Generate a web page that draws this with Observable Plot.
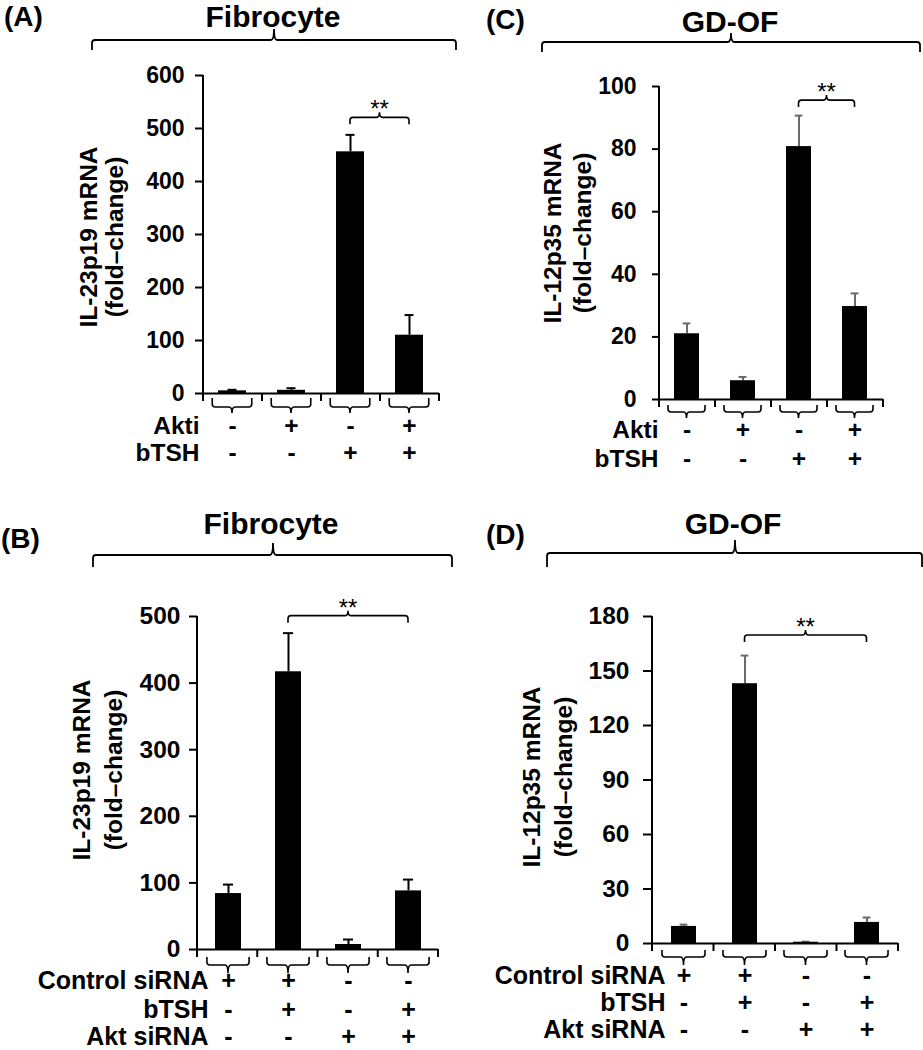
<!DOCTYPE html>
<html><head><meta charset="utf-8">
<script src="https://cdn.jsdelivr.net/npm/d3@7"></script>
<script src="https://cdn.jsdelivr.net/npm/@observablehq/plot@0.6"></script>
<style>
body{margin:0;background:#fff;}
#fig{position:relative;width:923px;height:1050px;overflow:hidden;background:#fff;font-family:"Liberation Sans",Arial,sans-serif;}
.panel{position:absolute;}
</style></head><body><div id="fig"></div>
<script>
// ---------- data ----------
const groups = ["g1", "g2", "g3", "g4"];
// Panels A and C (Akti / bTSH)
const aktiSigns = ["-", "+", "-", "+"];
const bTSHSignsTop = ["-", "-", "+", "+"];
// Panels B and D (siRNA)
const controlSiSigns = ["+", "+", "-", "-"];
const bTSHSignsBottom = ["-", "+", "-", "+"];
const aktSiSigns = ["-", "-", "+", "+"];

const aMean = [5, 6, 456, 110];
const aSem = [2, 4, 32, 38];
const aTicks = [0, 100, 200, 300, 400, 500, 600];

const cMean = [21, 6, 80.8, 29.7];
const cSem = [3.3, 1.2, 9.9, 4.2];
const cTicks = [0, 20, 40, 60, 80, 100];

const bMean = [84, 417, 7.5, 88];
const bSem = [13.5, 58, 7.5, 17];
const bTicks = [0, 100, 200, 300, 400, 500];

const dMean = [9.4, 143, 0.7, 11.6];
const dSem = [1.0, 15.5, 0.3, 2.7];
const dTicks = [0, 30, 60, 90, 120, 150, 180];

const labelFibro = "Fibrocyte";
const labelGD = "GD-OF";
const yLabel23 = ["IL-23p19 mRNA", "(fold\u2013change)"];
const yLabel12 = ["IL-12p35 mRNA", "(fold\u2013change)"];

// ---------- layout ----------
const panels = [
  {letter: "(A)", title: labelFibro, ylab: yLabel23, mean: aMean, sem: aSem, ticks: aTicks,
   left: 0, top: 0, width: 462, height: 490, margin: {top: 75, right: 23, bottom: 97, left: 203},
   pad: 0.525, tickSize: 8, tickPadding: 11, tickFont: 23, errColor: "#000", capW: 9,
   ylabX: [97, 123], ylabY: 237,
   rows: [{name: "Akti", signs: aktiSigns, dy: 40}, {name: "bTSH", signs: bTSHSignsTop, dy: 67}],
   rowNameX: 199, rowFont: 24.5,
   sub: {frac: 0.67, end: 5, line: 14, tick: 20},
   topB: {x0: 92, x1: 456, xm: 274, y: 40, end: 50, peak: 29},
   titleX: 273, titleY: 27, letterX: 4, letterY: 26,
   sig: {i: 2, j: 3, off: 17}},
  {letter: "(C)", title: labelGD, ylab: yLabel12, mean: cMean, sem: cSem, ticks: cTicks,
   left: 462, top: 0, width: 461, height: 490, margin: {top: 86, right: 40, bottom: 91, left: 197},
   pad: 0.55, tickSize: 7, tickPadding: 16, tickFont: 23, errColor: "#6a6a6a", capW: 8,
   ylabX: [99, 129], ylabY: 233,
   rows: [{name: "Akti", signs: aktiSigns, dy: 38}, {name: "bTSH", signs: bTSHSignsTop, dy: 67}],
   rowNameX: 196, rowFont: 24.5,
   sub: {frac: 0.66, end: 6, line: 13, tick: 19},
   topB: {x0: 80, x1: 458, xm: 269, y: 42, end: 52, peak: 33},
   titleX: 268, titleY: 32, letterX: 24, letterY: 29,
   sig: {i: 2, j: 3, off: 15}},
  {letter: "(B)", title: labelFibro, ylab: yLabel23, mean: bMean, sem: bSem, ticks: bTicks,
   left: 0, top: 490, width: 462, height: 560, margin: {top: 126, right: 24, bottom: 101, left: 197},
   pad: 0.57, tickSize: 8, tickPadding: 9, tickFont: 24.5, errColor: "#000", capW: 10,
   ylabX: [90, 122], ylabY: 280,
   rows: [{name: "Control siRNA", signs: controlSiSigns, dy: 39}, {name: "bTSH", signs: bTSHSignsBottom, dy: 68}, {name: "Akt siRNA", signs: aktSiSigns, dy: 95}],
   rowNameX: 208, rowFont: 25,
   sub: {frac: 0.7, end: 8, line: 16, tick: 24},
   topB: {x0: 93, x1: 452, xm: 273, y: 65, end: 77, peak: 53},
   titleX: 271, titleY: 44, letterX: 1, letterY: 58,
   sig: {i: 1, j: 3, off: 17}},
  {letter: "(D)", title: labelGD, ylab: yLabel12, mean: dMean, sem: dSem, ticks: dTicks,
   left: 462, top: 490, width: 461, height: 560, margin: {top: 126, right: 25, bottom: 107, left: 190},
   pad: 0.59, tickSize: 9, tickPadding: 14, tickFont: 24.5, errColor: "#6a6a6a", capW: 8,
   ylabX: [78, 110], ylabY: 287,
   rows: [{name: "Control siRNA", signs: controlSiSigns, dy: 40}, {name: "bTSH", signs: bTSHSignsBottom, dy: 67}, {name: "Akt siRNA", signs: aktSiSigns, dy: 94}],
   rowNameX: 203, rowFont: 25,
   sub: {frac: 0.7, end: 7, line: 14, tick: 22},
   topB: {x0: 85, x1: 460, xm: 273, y: 63, end: 77, peak: 50},
   titleX: 271, titleY: 44, letterX: 24, letterY: 54,
   sig: {i: 1, j: 3, off: 20}}
];

function bracketPath(xa, xb, xm, yl, ye, yp) {
  const r = 3;
  const se = Math.sign(ye - yl);
  return `M${xa},${ye} L${xa},${yl + se * r} Q${xa},${yl} ${xa + r},${yl} L${xm - r},${yl} Q${xm},${yl} ${xm},${yp} Q${xm},${yl} ${xm + r},${yl} L${xb - r},${yl} Q${xb},${yl} ${xb},${yl + se * r} L${xb},${ye}`;
}

const fig = document.getElementById("fig");
const FONT = "'Liberation Sans', Arial, Helvetica, sans-serif";

panels.forEach(cfg => {
  const data = groups.map((g, i) => ({g, m: cfg.mean[i], e: cfg.mean[i] + cfg.sem[i]}));
  const n = groups.length;
  const step = (cfg.width - cfg.margin.left - cfg.margin.right) / n;
  const bw = step * (1 - cfg.pad);
  const capInset = (bw - cfg.capW) / 2;
  const marks = [
    Plot.ruleX(data, {x: "g", y1: "m", y2: "e", stroke: cfg.errColor, strokeWidth: 2}),
    Plot.tickY(data, {x: "g", y: "e", stroke: cfg.errColor, strokeWidth: 2, insetLeft: capInset, insetRight: capInset}),
    Plot.barY(data, {x: "g", y: "m", fill: "black"}),
    Plot.ruleY([0], {stroke: "black", strokeWidth: 2}),
    Plot.axisY({ticks: cfg.ticks, tickSize: cfg.tickSize, tickPadding: cfg.tickPadding, fontSize: cfg.tickFont, fontWeight: "bold", label: null, strokeWidth: 2, tickFormat: d3.format("d")})
  ];
  cfg.rows.forEach(r => {
    marks.push(Plot.text(data, {x: "g", text: (d, i) => r.signs[i], frameAnchor: "bottom", dy: r.dy, lineAnchor: "bottom", fontSize: cfg.rowFont, fontWeight: "bold"}));
    marks.push(Plot.text([r.name], {frameAnchor: "bottom-left", dx: cfg.rowNameX - cfg.margin.left, dy: r.dy, textAnchor: "end", lineAnchor: "bottom", fontSize: cfg.rowFont, fontWeight: "bold"}));
  });

  const svg = Plot.plot({
    width: cfg.width, height: cfg.height,
    marginTop: cfg.margin.top, marginRight: cfg.margin.right, marginBottom: cfg.margin.bottom, marginLeft: cfg.margin.left,
    style: {fontFamily: FONT, fontWeight: "bold", color: "black", background: "transparent", overflow: "visible"},
    x: {type: "band", domain: groups, paddingInner: cfg.pad, paddingOuter: cfg.pad / 2, axis: null},
    y: {domain: [0, cfg.ticks[cfg.ticks.length - 1]]},
    marks
  });

  const xs = svg.scale("x"), ys = svg.scale("y");
  const [r0, r1] = xs.range;
  const stepS = (r1 - r0) / n;
  const center = g => xs.apply(g) + (xs.bandwidth != null ? xs.bandwidth : bw) / 2;
  const yb = ys.apply(0), yt = ys.apply(cfg.ticks[cfg.ticks.length - 1]);
  const sepLen = 8;
  const sel = d3.select(svg);
  const ga = sel.append("g").attr("fill", "none").attr("stroke", "black");

  // y-axis line and x-axis separators
  ga.append("line").attr("x1", r0).attr("x2", r0).attr("y1", yb + sepLen).attr("y2", yt).attr("stroke-width", 2);
  for (let i = 1; i <= n; i++) {
    const xx = r0 + i * stepS;
    ga.append("line").attr("x1", xx).attr("x2", xx).attr("y1", yb).attr("y2", yb + sepLen).attr("stroke-width", 2);
  }
  // sub-brackets under each group
  groups.forEach(g => {
    const xc = center(g), hw = stepS * cfg.sub.frac / 2;
    ga.append("path").attr("stroke-width", 1.6)
      .attr("d", bracketPath(xc - hw, xc + hw, xc, yb + cfg.sub.line, yb + cfg.sub.end, yb + cfg.sub.tick));
  });
  // significance bracket
  const gi = groups[cfg.sig.i], gj = groups[cfg.sig.j];
  const yl = Math.min(ys.apply(data[cfg.sig.i].e), ys.apply(data[cfg.sig.j].e)) - cfg.sig.off;
  const xa = center(gi), xb = center(gj), xm = (xa + xb) / 2;
  ga.append("path").attr("stroke-width", 1.6).attr("d", bracketPath(xa, xb, xm, yl, yl + 7, yl - 5));
  sel.append("text").attr("x", xm).attr("y", yl).attr("text-anchor", "middle")
    .attr("font-size", 24).attr("font-weight", "normal").attr("font-family", FONT).attr("fill", "black").text("**");
  // title bracket
  const tb = cfg.topB;
  ga.append("path").attr("stroke-width", 1.8).attr("d", bracketPath(tb.x0, tb.x1, tb.xm, tb.y, tb.end, tb.peak));
  sel.append("text").attr("x", cfg.titleX).attr("y", cfg.titleY).attr("text-anchor", "middle")
    .attr("font-size", 30).attr("font-weight", "bold").attr("font-family", FONT).attr("fill", "black").text(cfg.title);
  sel.append("text").attr("x", cfg.letterX).attr("y", cfg.letterY).attr("text-anchor", "start")
    .attr("font-size", 28).attr("font-weight", "bold").attr("font-family", FONT).attr("fill", "black").text(cfg.letter);
  // y label (two lines, rotated)
  cfg.ylab.forEach((t, k) => {
    sel.append("text").attr("transform", `translate(${cfg.ylabX[k]},${cfg.ylabY}) rotate(-90)`)
      .attr("text-anchor", "middle").attr("font-size", 24.5).attr("font-weight", "bold")
      .attr("font-family", FONT).attr("fill", "black").text(t);
  });

  const wrap = document.createElement("div");
  wrap.className = "panel";
  wrap.style.left = cfg.left + "px";
  wrap.style.top = cfg.top + "px";
  wrap.style.width = cfg.width + "px";
  wrap.style.height = cfg.height + "px";
  wrap.appendChild(svg);
  fig.appendChild(wrap);
});
</script>
</body></html>
